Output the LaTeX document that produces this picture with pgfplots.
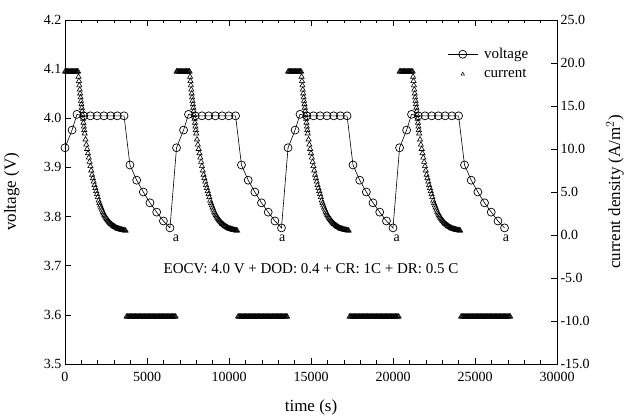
\documentclass[border=0pt]{standalone}
\usepackage{pgfplots}
\pgfplotsset{compat=1.18}
\usepackage{fontspec}
\setmainfont{Liberation Serif}
\begin{document}
\begin{tikzpicture}[font=\fontsize{14}{16}\selectfont]
\pgfplotsset{
  every axis/.append style={
    scale only axis, width=492pt, height=344pt,
    xmin=0, xmax=30000, clip=false,
    major tick length=6pt, minor tick length=3.5pt,
    tick style={black, line width=0.6pt},
    axis line style={line width=0.8pt},
    /pgf/number format/assume math mode=true,
    tick label style={font=\fontsize{14}{16}\selectfont},
    label style={font=\fontsize{17}{19}\selectfont},
  },
  cur/.style={forget plot, only marks, mark=triangle, mark size=3pt,
    mark options={black, fill=white, line width=0.6pt}},
}
% voltage (left axis)
\begin{axis}[
  name=ax,
  tick align=inside,
  ymin=3.5, ymax=4.2,
  ytick={3.5,3.6,3.7,3.8,3.9,4.0,4.1,4.2},
  y tick label style={/pgf/number format/.cd, fixed, fixed zerofill, precision=1, /tikz/.cd},
  xtick={0,5000,10000,15000,20000,25000,30000},
  minor x tick num=4,
  scaled x ticks=false,
  x tick label style={/pgf/number format/1000 sep={}, yshift=-5pt},
  ytick pos=left,
  xlabel={time (s)},
  ylabel={voltage (V)},
  xlabel style={at={(axis description cs:0.5,-0.125)}, anchor=center},
  ylabel style={at={(axis description cs:-0.108,0.5)}, anchor=center},
]
\addplot[black, line width=0.6pt, mark=o, mark size=4pt, mark options={fill=white, line width=0.7pt}] coordinates {
  (0,3.940) (430,3.976) (730,4.008) (1140,4.005) (1550,4.005) (1960,4.005) (2370,4.005) (2780,4.005) (3190,4.005) (3600,4.005)
  (3960,3.905) (4370,3.874) (4775,3.850) (5180,3.828) (5590,3.809) (6000,3.791) (6400,3.777)
  (6800,3.940) (7230,3.976) (7530,4.008) (7940,4.005) (8350,4.005) (8760,4.005) (9170,4.005) (9580,4.005) (9990,4.005) (10400,4.005)
  (10760,3.905) (11170,3.874) (11575,3.850) (11980,3.828) (12390,3.809) (12800,3.791) (13200,3.777)
  (13600,3.940) (14030,3.976) (14330,4.008) (14740,4.005) (15150,4.005) (15560,4.005) (15970,4.005) (16380,4.005) (16790,4.005) (17200,4.005)
  (17560,3.905) (17970,3.874) (18375,3.850) (18780,3.828) (19190,3.809) (19600,3.791) (20000,3.777)
  (20400,3.940) (20830,3.976) (21130,4.008) (21540,4.005) (21950,4.005) (22360,4.005) (22770,4.005) (23180,4.005) (23590,4.005) (24000,4.005)
  (24360,3.905) (24770,3.874) (25175,3.850) (25580,3.828) (25990,3.809) (26400,3.791) (26800,3.777)
};
\node[font=\fontsize{15}{17}\selectfont] at (axis cs:15000,3.695) {EOCV: 4.0 V + DOD: 0.4 + CR: 1C + DR: 0.5 C};
\node at (axis cs:6770,3.756) {a};
\node at (axis cs:13250,3.756) {a};
\node at (axis cs:20225,3.756) {a};
\node at (axis cs:26890,3.756) {a};
\end{axis}
% current density (right axis)
\begin{axis}[
  axis x line=none, axis y line*=right,
  tick align=inside,
  ymin=-15, ymax=25,
  ytick={-15,-10,-5,0,5,10,15,20,25},
  y tick label style={/pgf/number format/.cd, fixed, fixed zerofill, precision=1, /tikz/.cd},
  ylabel={current density (A/m$^2$)},
  ylabel style={at={(axis description cs:1.118,0.5)}, anchor=center},
  legend image code/.code={\draw[mark repeat=2,mark phase=2,#1] plot coordinates {(0cm,0cm) (0.525cm,0cm) (1.05cm,0cm)};},
  legend style={draw=none, fill=none, at={(axis description cs:0.771,0.93)}, anchor=north west,
    font=\fontsize{15}{17}\selectfont, row sep=5pt, cells={anchor=west}},
]
\addlegendimage{black, line width=0.6pt, mark=o, mark size=4pt, mark options={fill=white, line width=0.7pt}}
\addlegendentry{\hspace{4pt}voltage}
\addlegendimage{only marks, mark=triangle, mark size=2pt, mark options={fill=white, line width=0.5pt}}
\addlegendentry{\hspace{4pt}current}
% cycle 1
\addplot[cur] coordinates {
  (0,19.0) (50,19.0) (100,19.0) (150,19.0) (200,19.0) (250,19.0) (300,19.0) (350,19.0) (400,19.0)
  (450,19.0) (500,19.0) (550,19.0) (600,19.0) (650,19.0) (700,19.0) (750,19.0) (800,19.0)
  (825,18.4) (850,17.9) (875,17.4) (900,16.9) (925,16.45) (950,16.0) (975,15.6) (1000,15.2) (1025,14.8) (1050,14.4)
  (1075,13.95) (1100,13.5) (1125,13.05) (1150,12.6) (1175,12.2) (1200,11.8) (1250,11.1) (1300,10.5)
  (1350,10.0) (1400,9.5) (1450,9.0) (1500,8.5) (1550,8.0) (1600,7.5) (1650,7.0) (1700,6.6) (1750,6.2) (1800,5.8)
  (1850,5.45) (1900,5.1) (1950,4.75) (2000,4.4) (2050,4.0) (2100,3.7) (2150,3.45) (2200,3.2) (2250,2.95) (2300,2.7)
  (2350,2.5) (2400,2.3) (2450,2.15) (2500,2.0) (2550,1.85) (2600,1.72) (2650,1.6) (2700,1.48) (2750,1.37) (2800,1.28)
  (2850,1.2) (2900,1.12) (2950,1.05) (3000,0.98) (3050,0.92) (3100,0.86) (3150,0.8) (3200,0.76) (3250,0.73) (3300,0.7)
  (3350,0.67) (3400,0.64) (3450,0.61) (3500,0.58) (3550,0.56) (3600,0.54) (3650,0.52) (3700,0.5)
  (3750,-9.5) (3800,-9.5) (3850,-9.5) (3900,-9.5) (3950,-9.5) (4000,-9.5) (4050,-9.5) (4100,-9.5) (4150,-9.5) (4200,-9.5)
  (4250,-9.5) (4300,-9.5) (4350,-9.5) (4400,-9.5) (4450,-9.5) (4500,-9.5) (4550,-9.5) (4600,-9.5) (4650,-9.5) (4700,-9.5)
  (4750,-9.5) (4800,-9.5) (4850,-9.5) (4900,-9.5) (4950,-9.5) (5000,-9.5) (5050,-9.5) (5100,-9.5) (5150,-9.5) (5200,-9.5)
  (5250,-9.5) (5300,-9.5) (5350,-9.5) (5400,-9.5) (5450,-9.5) (5500,-9.5) (5550,-9.5) (5600,-9.5) (5650,-9.5) (5700,-9.5)
  (5750,-9.5) (5800,-9.5) (5850,-9.5) (5900,-9.5) (5950,-9.5) (6000,-9.5) (6050,-9.5) (6100,-9.5) (6150,-9.5) (6200,-9.5)
  (6250,-9.5) (6300,-9.5) (6350,-9.5) (6400,-9.5) (6450,-9.5) (6500,-9.5) (6550,-9.5) (6600,-9.5) (6650,-9.5) (6700,-9.5) (6750,-9.5)
};
% cycle 2
\addplot[cur] coordinates {
  (6800,19.0) (6850,19.0) (6900,19.0) (6950,19.0) (7000,19.0) (7050,19.0) (7100,19.0) (7150,19.0) (7200,19.0)
  (7250,19.0) (7300,19.0) (7350,19.0) (7400,19.0) (7450,19.0) (7500,19.0) (7550,19.0) (7600,19.0)
  (7625,18.4) (7650,17.9) (7675,17.4) (7700,16.9) (7725,16.45) (7750,16.0) (7775,15.6) (7800,15.2) (7825,14.8) (7850,14.4)
  (7875,13.95) (7900,13.5) (7925,13.05) (7950,12.6) (7975,12.2) (8000,11.8) (8050,11.1) (8100,10.5)
  (8150,10.0) (8200,9.5) (8250,9.0) (8300,8.5) (8350,8.0) (8400,7.5) (8450,7.0) (8500,6.6) (8550,6.2) (8600,5.8)
  (8650,5.45) (8700,5.1) (8750,4.75) (8800,4.4) (8850,4.0) (8900,3.7) (8950,3.45) (9000,3.2) (9050,2.95) (9100,2.7)
  (9150,2.5) (9200,2.3) (9250,2.15) (9300,2.0) (9350,1.85) (9400,1.72) (9450,1.6) (9500,1.48) (9550,1.37) (9600,1.28)
  (9650,1.2) (9700,1.12) (9750,1.05) (9800,0.98) (9850,0.92) (9900,0.86) (9950,0.8) (10000,0.76) (10050,0.73) (10100,0.7)
  (10150,0.67) (10200,0.64) (10250,0.61) (10300,0.58) (10350,0.56) (10400,0.54) (10450,0.52) (10500,0.5)
  (10550,-9.5) (10600,-9.5) (10650,-9.5) (10700,-9.5) (10750,-9.5) (10800,-9.5) (10850,-9.5) (10900,-9.5) (10950,-9.5) (11000,-9.5)
  (11050,-9.5) (11100,-9.5) (11150,-9.5) (11200,-9.5) (11250,-9.5) (11300,-9.5) (11350,-9.5) (11400,-9.5) (11450,-9.5) (11500,-9.5)
  (11550,-9.5) (11600,-9.5) (11650,-9.5) (11700,-9.5) (11750,-9.5) (11800,-9.5) (11850,-9.5) (11900,-9.5) (11950,-9.5) (12000,-9.5)
  (12050,-9.5) (12100,-9.5) (12150,-9.5) (12200,-9.5) (12250,-9.5) (12300,-9.5) (12350,-9.5) (12400,-9.5) (12450,-9.5) (12500,-9.5)
  (12550,-9.5) (12600,-9.5) (12650,-9.5) (12700,-9.5) (12750,-9.5) (12800,-9.5) (12850,-9.5) (12900,-9.5) (12950,-9.5) (13000,-9.5)
  (13050,-9.5) (13100,-9.5) (13150,-9.5) (13200,-9.5) (13250,-9.5) (13300,-9.5) (13350,-9.5) (13400,-9.5) (13450,-9.5) (13500,-9.5) (13550,-9.5)
};
% cycle 3
\addplot[cur] coordinates {
  (13600,19.0) (13650,19.0) (13700,19.0) (13750,19.0) (13800,19.0) (13850,19.0) (13900,19.0) (13950,19.0) (14000,19.0)
  (14050,19.0) (14100,19.0) (14150,19.0) (14200,19.0) (14250,19.0) (14300,19.0) (14350,19.0) (14400,19.0)
  (14425,18.4) (14450,17.9) (14475,17.4) (14500,16.9) (14525,16.45) (14550,16.0) (14575,15.6) (14600,15.2) (14625,14.8) (14650,14.4)
  (14675,13.95) (14700,13.5) (14725,13.05) (14750,12.6) (14775,12.2) (14800,11.8) (14850,11.1) (14900,10.5)
  (14950,10.0) (15000,9.5) (15050,9.0) (15100,8.5) (15150,8.0) (15200,7.5) (15250,7.0) (15300,6.6) (15350,6.2) (15400,5.8)
  (15450,5.45) (15500,5.1) (15550,4.75) (15600,4.4) (15650,4.0) (15700,3.7) (15750,3.45) (15800,3.2) (15850,2.95) (15900,2.7)
  (15950,2.5) (16000,2.3) (16050,2.15) (16100,2.0) (16150,1.85) (16200,1.72) (16250,1.6) (16300,1.48) (16350,1.37) (16400,1.28)
  (16450,1.2) (16500,1.12) (16550,1.05) (16600,0.98) (16650,0.92) (16700,0.86) (16750,0.8) (16800,0.76) (16850,0.73) (16900,0.7)
  (16950,0.67) (17000,0.64) (17050,0.61) (17100,0.58) (17150,0.56) (17200,0.54) (17250,0.52) (17300,0.5)
  (17350,-9.5) (17400,-9.5) (17450,-9.5) (17500,-9.5) (17550,-9.5) (17600,-9.5) (17650,-9.5) (17700,-9.5) (17750,-9.5) (17800,-9.5)
  (17850,-9.5) (17900,-9.5) (17950,-9.5) (18000,-9.5) (18050,-9.5) (18100,-9.5) (18150,-9.5) (18200,-9.5) (18250,-9.5) (18300,-9.5)
  (18350,-9.5) (18400,-9.5) (18450,-9.5) (18500,-9.5) (18550,-9.5) (18600,-9.5) (18650,-9.5) (18700,-9.5) (18750,-9.5) (18800,-9.5)
  (18850,-9.5) (18900,-9.5) (18950,-9.5) (19000,-9.5) (19050,-9.5) (19100,-9.5) (19150,-9.5) (19200,-9.5) (19250,-9.5) (19300,-9.5)
  (19350,-9.5) (19400,-9.5) (19450,-9.5) (19500,-9.5) (19550,-9.5) (19600,-9.5) (19650,-9.5) (19700,-9.5) (19750,-9.5) (19800,-9.5)
  (19850,-9.5) (19900,-9.5) (19950,-9.5) (20000,-9.5) (20050,-9.5) (20100,-9.5) (20150,-9.5) (20200,-9.5) (20250,-9.5) (20300,-9.5) (20350,-9.5)
};
% cycle 4
\addplot[cur] coordinates {
  (20400,19.0) (20450,19.0) (20500,19.0) (20550,19.0) (20600,19.0) (20650,19.0) (20700,19.0) (20750,19.0) (20800,19.0)
  (20850,19.0) (20900,19.0) (20950,19.0) (21000,19.0) (21050,19.0) (21100,19.0) (21150,19.0) (21200,19.0)
  (21225,18.4) (21250,17.9) (21275,17.4) (21300,16.9) (21325,16.45) (21350,16.0) (21375,15.6) (21400,15.2) (21425,14.8) (21450,14.4)
  (21475,13.95) (21500,13.5) (21525,13.05) (21550,12.6) (21575,12.2) (21600,11.8) (21650,11.1) (21700,10.5)
  (21750,10.0) (21800,9.5) (21850,9.0) (21900,8.5) (21950,8.0) (22000,7.5) (22050,7.0) (22100,6.6) (22150,6.2) (22200,5.8)
  (22250,5.45) (22300,5.1) (22350,4.75) (22400,4.4) (22450,4.0) (22500,3.7) (22550,3.45) (22600,3.2) (22650,2.95) (22700,2.7)
  (22750,2.5) (22800,2.3) (22850,2.15) (22900,2.0) (22950,1.85) (23000,1.72) (23050,1.6) (23100,1.48) (23150,1.37) (23200,1.28)
  (23250,1.2) (23300,1.12) (23350,1.05) (23400,0.98) (23450,0.92) (23500,0.86) (23550,0.8) (23600,0.76) (23650,0.73) (23700,0.7)
  (23750,0.67) (23800,0.64) (23850,0.61) (23900,0.58) (23950,0.56) (24000,0.54) (24050,0.52) (24100,0.5)
  (24150,-9.5) (24200,-9.5) (24250,-9.5) (24300,-9.5) (24350,-9.5) (24400,-9.5) (24450,-9.5) (24500,-9.5) (24550,-9.5) (24600,-9.5)
  (24650,-9.5) (24700,-9.5) (24750,-9.5) (24800,-9.5) (24850,-9.5) (24900,-9.5) (24950,-9.5) (25000,-9.5) (25050,-9.5) (25100,-9.5)
  (25150,-9.5) (25200,-9.5) (25250,-9.5) (25300,-9.5) (25350,-9.5) (25400,-9.5) (25450,-9.5) (25500,-9.5) (25550,-9.5) (25600,-9.5)
  (25650,-9.5) (25700,-9.5) (25750,-9.5) (25800,-9.5) (25850,-9.5) (25900,-9.5) (25950,-9.5) (26000,-9.5) (26050,-9.5) (26100,-9.5)
  (26150,-9.5) (26200,-9.5) (26250,-9.5) (26300,-9.5) (26350,-9.5) (26400,-9.5) (26450,-9.5) (26500,-9.5) (26550,-9.5) (26600,-9.5)
  (26650,-9.5) (26700,-9.5) (26750,-9.5) (26800,-9.5) (26850,-9.5) (26900,-9.5) (26950,-9.5) (27000,-9.5) (27050,-9.5) (27100,-9.5) (27150,-9.5)
};
\end{axis}
\pgfresetboundingbox
\path[use as bounding box] ([xshift=-65pt,yshift=-53pt]ax.south west) rectangle ([xshift=69pt,yshift=20pt]ax.north east);
\end{tikzpicture}
\end{document}
